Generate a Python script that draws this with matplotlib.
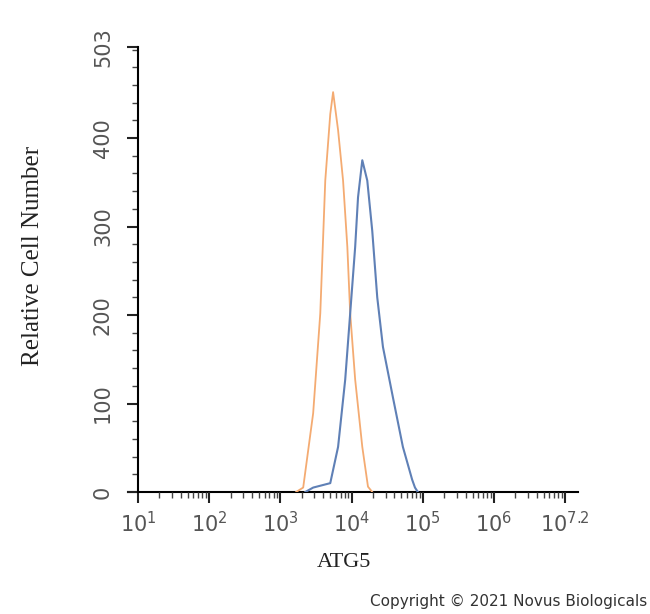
import matplotlib
matplotlib.use('Agg')
import matplotlib.pyplot as plt
import numpy as np

plt.rcParams['mathtext.fontset'] = 'custom'
plt.rcParams['mathtext.rm'] = 'Liberation Sans'

# Histogram outlines (x as log10 of intensity, y as cell count)
control_logx = [3.22, 3.32, 3.46, 3.56, 3.63, 3.70, 3.74, 3.81, 3.88, 3.94, 3.98, 4.05, 4.15, 4.23, 4.29]
control_count = [0, 5, 89, 202, 352, 427, 452, 409, 352, 277, 202, 127, 51, 6, 0]

atg5_logx = [3.35, 3.46, 3.70, 3.81, 3.91, 3.98, 4.05, 4.09, 4.15, 4.22, 4.29, 4.36, 4.44, 4.58, 4.72, 4.85, 4.89, 4.93]
atg5_count = [0, 5, 10, 51, 127, 202, 277, 333, 375, 352, 295, 220, 164, 107, 51, 14, 5, 0]

x_ticks = [1, 2, 3, 4, 5, 6, 7]
x_tick_labels = ['1', '2', '3', '4', '5', '6', '7.2']
y_ticks = [0, 100, 200, 300, 400, 503]

fig = plt.figure(figsize=(6.5, 6.14), dpi=100)
ax = fig.add_axes([0.2123, 0.1987, 0.677, 0.7248])

ax.plot(10 ** np.array(control_logx), control_count, color='#f4ab72', lw=1.3)
ax.plot(10 ** np.array(atg5_logx), atg5_count, color='#5f80b6', lw=1.5)

ax.set_xscale('log')
ax.set_xlim(10, 10 ** 7.18)
ax.set_ylim(0, 503)

ax.spines['top'].set_visible(False)
ax.spines['right'].set_visible(False)
ax.spines['left'].set_linewidth(1.5)
ax.spines['bottom'].set_linewidth(1.5)
ax.spines['bottom'].set_bounds(10 ** 0.86, 10 ** 7.18)
ax.spines['bottom'].set_zorder(0)

ax.set_xticks([10 ** t for t in x_ticks])
ax.set_xticklabels([r'$\mathregular{10^{%s}}$' % s for s in x_tick_labels])
ax.xaxis.set_minor_locator(matplotlib.ticker.LogLocator(base=10, subs=np.arange(2, 10), numticks=20))
ax.xaxis.set_minor_formatter(matplotlib.ticker.NullFormatter())

ax.set_yticks(y_ticks)
ax.set_yticks(np.arange(0, 503, 20), minor=True)
ax.set_yticklabels([str(v) for v in y_ticks], rotation=90, va='center')

ax.tick_params(axis='both', which='major', length=8, width=1.5, color='#222222',
               labelsize=15, labelcolor='#555555')
ax.tick_params(axis='x', which='major', pad=6)
ax.tick_params(axis='y', which='major', pad=10)
ax.tick_params(axis='both', which='minor', length=4, width=1, color='#444444')

ax.set_xlabel('ATG5', fontfamily='Liberation Serif', fontsize=16, color='#222222')
ax.xaxis.set_label_coords(0.468, -0.137)
ax.set_ylabel('Relative Cell Number', fontfamily='Liberation Serif', fontsize=18, color='#222222')
ax.yaxis.set_label_coords(-0.214, 0.53)

fig.text(0.995, 0.02, 'Copyright \u00a9 2021 Novus Biologicals', ha='right', va='center',
         fontsize=11, color='#333333', fontfamily='DejaVu Sans')

fig.savefig('out.png', dpi=100)
